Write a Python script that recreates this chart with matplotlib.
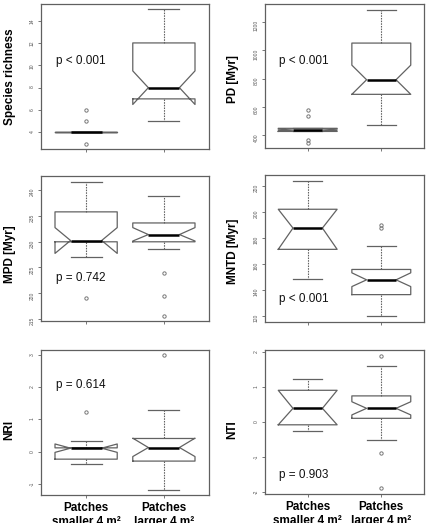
import matplotlib
matplotlib.use("Agg")
import matplotlib.pyplot as plt

plt.rcParams['font.family'] = ['Liberation Sans', 'DejaVu Sans']

# ---- data ----
panel_labels = ["Species richness", "PD [Myr]", "MPD [Myr]", "MNTD [Myr]", "NRI", "NTI"]
p_texts = ["p < 0.001", "p < 0.001", "p = 0.742", "p < 0.001", "p = 0.614", "p = 0.903"]
group_labels = ["Patches\nsmaller 4 m²", "Patches\nlarger 4 m²"]

whislo = [[4, 5], [428, 473], [227.0, 228.5], [148.0, 119.7], [-0.39, -1.17], [-0.27, -0.51]]
q1 = [[4, 7], [428, 690], [229.95, 229.95], [171.0, 136.1], [-0.23, -0.29], [-0.085, 0.10]]
med = [[4, 8], [438, 793], [230.2, 231.35], [187.4, 147.5], [0.11, 0.13], [0.385, 0.385]]
q3 = [[4, 12], [450, 1052], [235.75, 233.6], [201.9, 155.5], [0.12, 0.41], [0.90, 0.74]]
whishi = [[4, 15], [450, 1287], [241.6, 238.9], [223.4, 173.6], [0.33, 1.29], [1.21, 1.59]]
ci_lo = [[4, 6.5], [432, 690], [227.7, 230.1], [171.0, 142.3], [-0.02, -0.15], [-0.085, 0.197]]
ci_hi = [[4, 9.5], [444, 896], [232.7, 232.7], [201.9, 152.9], [0.24, 0.42], [0.90, 0.573]]
outliers = [
    [[6, 5, 3], []],
    [[581, 534, 369, 346], []],
    [[219.1], [223.9, 219.5, 215.6]],
    [[], [189.5, 187.5]],
    [[1.22], [2.98]],
    [[], [1.88, -0.90, -1.90]],
]
ylims = [(2.52, 15.48), (311, 1328), (214.6, 242.7), (115.0, 228.3), (-1.34, 3.15), (-2.06, 2.05)]
yticks = [[4, 6, 8, 10, 12, 14], [400, 600, 800, 1000, 1200], [215, 220, 225, 230, 235, 240],
          [120, 140, 160, 180, 200, 220], [-1, 0, 1, 2, 3], [-2, -1, 0, 1, 2]]

# ---- layout ----
W, H = 435, 523
fig = plt.figure(figsize=(W / 100, H / 100), dpi=100)

def frac_rect(x0, x1, y0, y1):
    return [x0 / W, 1 - y1 / H, (x1 - x0) / W, (y1 - y0) / H]

rects = [
    frac_rect(41, 209, 4, 149), frac_rect(265, 424, 4, 148),
    frac_rect(41, 209, 176, 321), frac_rect(265, 424, 175, 322),
    frac_rect(41, 209, 350, 495), frac_rect(265, 424, 350, 494),
]
label_pos = [(-0.185, 0.50), (-0.20, 0.48), (-0.185, 0.46), (-0.20, 0.48), (-0.19, 0.45), (-0.205, 0.45)]
p_pos = [(0.089, 0.607), (0.09, 0.606), (0.089, 0.299), (0.09, 0.154), (0.089, 0.759), (0.09, 0.132)]

line_col = '#626262'
frame_col = '#606060'

for i in range(6):
    ax = fig.add_axes(rects[i])
    stats = []
    for g in range(2):
        stats.append(dict(med=med[i][g], q1=q1[i][g], q3=q3[i][g],
                          whislo=whislo[i][g], whishi=whishi[i][g],
                          cilo=ci_lo[i][g], cihi=ci_hi[i][g],
                          fliers=outliers[i][g]))
    ax.bxp(stats, positions=[1, 2], widths=0.8, shownotches=True, manage_ticks=False,
           boxprops=dict(color=line_col, linewidth=0.9),
           medianprops=dict(color='black', linewidth=1.8, solid_capstyle='butt'),
           whiskerprops=dict(color=line_col, linewidth=0.8, linestyle=(0, (1.4, 1.0))),
           capprops=dict(color=line_col, linewidth=0.9),
           flierprops=dict(marker='o', markersize=2.4, markerfacecolor='none',
                           markeredgecolor='#777777', markeredgewidth=0.7))
    ax.set_xlim(0.42, 2.58)
    ax.set_ylim(*ylims[i])
    ax.set_yticks(yticks[i])
    ax.set_yticklabels([str(t) for t in yticks[i]])
    ax.set_xticks([1, 2])
    if i >= 4:
        ax.set_xticklabels(group_labels, fontsize=8.5, fontweight='bold', linespacing=1.15)
    else:
        ax.set_xticklabels(['', ''])
    ax.tick_params(axis='y', direction='out', length=2.2, width=0.6, color=frame_col,
                   labelsize=3.6, labelcolor='#555555', labelrotation=90, pad=2.5)
    ax.tick_params(axis='x', direction='out', length=2.2, width=0.6, color=frame_col, pad=3)
    for sp in ax.spines.values():
        sp.set_color(frame_col)
        sp.set_linewidth(0.9)
    lx, ly = label_pos[i]
    ax.text(lx, ly, panel_labels[i], transform=ax.transAxes, rotation=90,
            ha='center', va='center', fontsize=8.5, fontweight='bold')
    px, py = p_pos[i]
    ax.text(px, py, p_texts[i], transform=ax.transAxes, ha='left', va='center',
            fontsize=8.5, color='#111111')

fig.savefig('out.png', dpi=100)
